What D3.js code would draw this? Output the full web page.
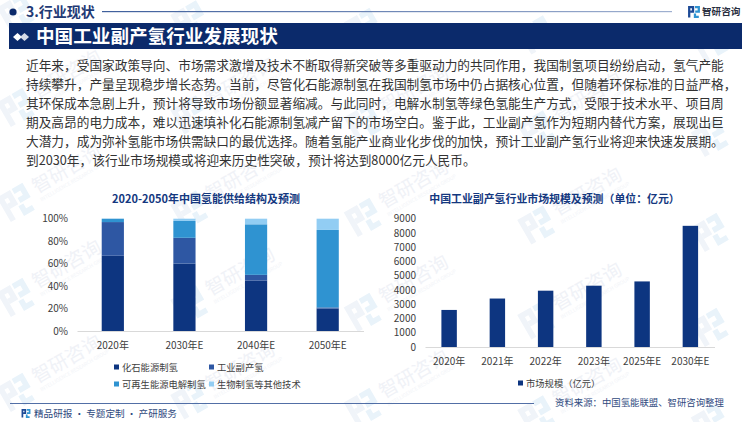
<!DOCTYPE html>
<html>
<head>
<meta charset="utf-8">
<script src="https://cdn.jsdelivr.net/npm/d3@7"></script>
<style>
  html, body { margin: 0; padding: 0; background: #fff; }
  svg text { font-family: "Noto Sans CJK SC", "Noto Sans", sans-serif; }
  .axis text { fill: #404040; font-size: 10px; }
  .axis path, .axis line { stroke: #d9d9d9; }
</style>
</head>
<body>
<div id="chart"></div>
<script>
let bodyLines = [
  '近年来，受国家政策导向、市场需求激增及技术不断取得新突破等多重驱动力的共同作用，我国制氢项目纷纷启动，氢气产能',
  '持续攀升，产量呈现稳步增长态势。当前，尽管化石能源制氢在我国制氢市场中仍占据核心位置，但随着环保标准的日益严格，',
  '其环保成本急剧上升，预计将导致市场份额显著缩减。与此同时，电解水制氢等绿色氢能生产方式，受限于技术水平、项目周',
  '期及高昂的电力成本，难以迅速填补化石能源制氢减产留下的市场空白。鉴于此，工业副产氢作为短期内替代方案，展现出巨',
  '大潜力，成为弥补氢能市场供需缺口的最优选择。随着氢能产业商业化步伐的加快，预计工业副产氢行业将迎来快速发展期。',
  '到2030年，该行业市场规模或将迎来历史性突破，预计将达到8000亿元人民币。'
];

// left chart
let supplyYears = ['2020年', '2030年E', '2040年E', '2050年E'];
let supplyKeys = ['化石能源制氢', '工业副产氢', '可再生能源电解制氢', '生物制氢等其他技术'];
let fossil = [67, 60, 45, 20];
let byproduct = [30, 23, 5, 1];
let renewable = [3, 15, 45, 69];
let biomass = [0, 2, 5, 10];
let supplyColors = ['#0d3580', '#2e57a3', '#2f93d1', '#92cdf3'];
let percentTicks = [0, 20, 40, 60, 80, 100];

// right chart
let marketYears = ['2020年', '2021年', '2022年', '2023年', '2025年E', '2030年E'];
let marketValues = [2600, 3400, 3950, 4300, 4600, 8500];
let marketTicks = [0, 1000, 2000, 3000, 4000, 5000, 6000, 7000, 8000, 9000];

let navy = '#0b2a6b';

let svg = d3.select('#chart')
  .append('svg')
  .attr('width', 750)
  .attr('height', 422)
  .style('display', 'block');

let defs = svg.append('defs');
let grad = defs.append('linearGradient').attr('id', 'headLine');
grad.append('stop').attr('offset', '0%').attr('stop-color', '#3f5f9c');
grad.append('stop').attr('offset', '100%').attr('stop-color', '#9fb0d0');

// the little company mark, used for the watermark and the headers
let drawLogo = (g, size, c1, c2) => {
  let u = size / 10;
  let p = (d, color) => g.append('path').attr('d', d).attr('fill', 'none')
    .attr('stroke', color).attr('stroke-width', 1.9 * u);
  p(`M${u},${9.5 * u}V${u}H${4.2 * u}V${4.6 * u}H${2 * u}`, c1);
  p(`M${5.8 * u},${u}H${9 * u}V${4.6 * u}H${6 * u}`, c2);
  p(`M${5.8 * u},${6.2 * u}V${9 * u}H${9 * u}`, c2);
};

// watermark, text only where it fits inside the page
let wm = svg.append('g').attr('class', 'watermark');
let wmText = (item, x, y, size, color, label) => {
  let t = item.append('text').attr('x', x).attr('y', y)
    .attr('font-size', size).attr('fill', color).text(label);
  let r = t.node().getBoundingClientRect();
  if (r.left < 0 || r.top < 0 || r.right > 750 || r.bottom > 422) t.remove();
};
d3.range(5).forEach(col => {
  d3.range(-2, 3).forEach(row => {
    let x = 17 + col * 173.5;
    let y = 203 + col * 7.5 + row * 95;
    let item = wm.append('g').attr('transform', `translate(${x},${y}) rotate(-30)`);
    let logo = item.append('g').attr('transform', 'translate(-15,-15)');
    drawLogo(logo, 30, '#f0f4f9', '#e9f3fa');
    wmText(item, 22, 2, 19, '#f0f2f7', '智研咨询');
    wmText(item, 22, 11, 5, '#f2f4f8', 'INTELLIGENCE RESEARCH GROUP');
  });
});

// header
svg.append('circle').attr('cx', 13).attr('cy', 12).attr('r', 3.6).attr('fill', navy);
svg.append('text').attr('x', 26).attr('y', 17)
  .attr('font-size', 14).attr('font-weight', 700).attr('fill', '#1f3a75').text('3.行业现状');
svg.append('rect').attr('x', 102).attr('y', 11).attr('width', 570).attr('height', 1.2)
  .attr('fill', 'url(#headLine)');
let topLogo = svg.append('g').attr('transform', 'translate(688,6)');
drawLogo(topLogo, 12, '#1d4a96', '#2f93d1');
svg.append('text').attr('x', 702).attr('y', 15)
  .attr('font-size', 9.6).attr('font-weight', 700).attr('fill', '#2a2f3f').text('智研咨询');

svg.append('rect').attr('x', 9).attr('y', 23).attr('width', 733).attr('height', 26).attr('fill', navy);
svg.append('path').attr('d', 'M13,37l4.5,-4l4.5,4l-4.5,4z').attr('fill', '#fff');
svg.append('path').attr('d', 'M20,37l4.5,-4l4.5,4l-4.5,4z').attr('fill', '#d5dbe8');
svg.append('text').attr('x', 36).attr('y', 43)
  .attr('font-size', 18.6).attr('font-weight', 700).attr('fill', '#fff').text('中国工业副产氢行业发展现状');

// paragraph
svg.append('g').selectAll('text')
  .data(bodyLines)
  .enter()
  .append('text')
  .attr('x', 26)
  .attr('y', (d, i) => 70 + i * 19)
  .attr('font-size', 12.7)
  .attr('fill', '#333')
  .text(d => d);

// left chart: stacked share of supply
let left = {x: 77, y: 218.7, w: 286.5, h: 112.3};
let supplyRows = supplyYears.map((d, i) => ({
  year: d,
  [supplyKeys[0]]: fossil[i],
  [supplyKeys[1]]: byproduct[i],
  [supplyKeys[2]]: renewable[i],
  [supplyKeys[3]]: biomass[i]
}));
let xLeft = d3.scaleBand().domain(supplyYears).range([0, left.w]).paddingInner(0.69).paddingOuter(0.345);
let yLeft = d3.scaleLinear().domain([0, 100]).range([left.h, 0]);
let colorLeft = d3.scaleOrdinal().domain(supplyKeys).range(supplyColors);

let gLeft = svg.append('g').attr('transform', `translate(${left.x},${left.y})`);
gLeft.selectAll('g.layer')
  .data(d3.stack().keys(supplyKeys)(supplyRows))
  .enter()
  .append('g')
  .attr('class', 'layer')
  .attr('fill', d => colorLeft(d.key))
  .selectAll('rect')
  .data(d => d)
  .enter()
  .append('rect')
  .attr('x', d => xLeft(d.data.year))
  .attr('y', d => yLeft(d[1]))
  .attr('width', xLeft.bandwidth())
  .attr('height', d => yLeft(d[0]) - yLeft(d[1]));

gLeft.append('g').attr('class', 'axis')
  .attr('transform', `translate(0,${left.h})`)
  .call(d3.axisBottom(xLeft).tickSize(0).tickPadding(11));
gLeft.append('g').attr('class', 'axis')
  .call(d3.axisLeft(yLeft).tickValues(percentTicks).tickFormat(d => d + '%').tickSize(0).tickPadding(9))
  .select('.domain').remove();

svg.append('text').attr('x', 206).attr('y', 203).attr('text-anchor', 'middle')
  .attr('font-size', 11).attr('font-weight', 700).attr('fill', '#14387f')
  .text('2020-2050年中国氢能供给结构及预测');

let legendLeft = svg.append('g').selectAll('g')
  .data(supplyKeys)
  .enter()
  .append('g')
  .attr('transform', (d, i) => `translate(${i % 2 ? 209 : 114},${i < 2 ? 367 : 384})`);
legendLeft.append('rect').attr('x', 0).attr('y', -2.5).attr('width', 5).attr('height', 5)
  .attr('fill', d => colorLeft(d));
legendLeft.append('text').attr('x', 8).attr('y', 3.5)
  .attr('font-size', 9.3).attr('fill', '#404040').text(d => d);

// right chart: market size
let right = {x: 425, y: 218.7, w: 289.5, h: 128.3};
let xRight = d3.scaleBand().domain(marketYears).range([0, right.w]).paddingInner(0.68).paddingOuter(0.34);
let yRight = d3.scaleLinear().domain([0, 9000]).range([right.h, 0]);

let gRight = svg.append('g').attr('transform', `translate(${right.x},${right.y})`);
gRight.selectAll('rect')
  .data(marketValues)
  .enter()
  .append('rect')
  .attr('x', (d, i) => xRight(marketYears[i]))
  .attr('y', d => yRight(d))
  .attr('width', xRight.bandwidth())
  .attr('height', d => right.h - yRight(d))
  .attr('fill', supplyColors[0]);

gRight.append('g').attr('class', 'axis')
  .attr('transform', `translate(0,${right.h})`)
  .call(d3.axisBottom(xRight).tickSize(0).tickPadding(11));
gRight.append('g').attr('class', 'axis')
  .call(d3.axisLeft(yRight).tickValues(marketTicks).tickFormat(d => d).tickSize(0).tickPadding(9))
  .select('.domain').remove();

svg.append('text').attr('x', 554.5).attr('y', 203).attr('text-anchor', 'middle')
  .attr('font-size', 10.9).attr('font-weight', 700).attr('fill', '#14387f')
  .text('中国工业副产氢行业市场规模及预测（单位：亿元）');

svg.append('rect').attr('x', 518).attr('y', 380.5).attr('width', 5).attr('height', 5).attr('fill', supplyColors[0]);
svg.append('text').attr('x', 526).attr('y', 386.5)
  .attr('font-size', 9.3).attr('fill', '#404040').text('市场规模（亿元）');

// footer
svg.append('rect').attr('x', 10).attr('y', 403).attr('width', 524).attr('height', 0.9).attr('fill', '#3f5f9c');
let footLogo = svg.append('g').attr('transform', 'translate(21.5,409)');
drawLogo(footLogo, 9, '#1d4a96', '#2f93d1');
svg.append('text').attr('x', 34).attr('y', 417)
  .attr('font-size', 9.6).attr('fill', '#2f4a80').text('精品研报 · 专题定制 · 产研服务');
svg.append('text').attr('x', 555).attr('y', 406)
  .attr('font-size', 9.4).attr('fill', '#2f4a80').text('资料来源：中国氢能联盟、智研咨询整理');
</script>
</body>
</html>
